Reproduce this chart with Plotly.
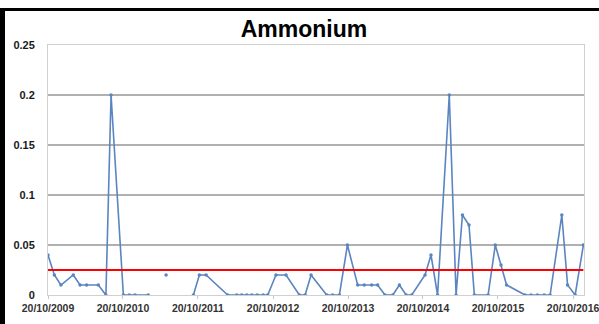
import plotly.graph_objects as go

# ---- data ----
dates = [
    "2009-10-20", "2009-11-20", "2009-12-22", "2010-02-20", "2010-03-25", "2010-04-26",
    "2010-06-22", "2010-07-29", "2010-08-23", "2010-10-22", "2010-11-20", "2010-12-18",
    "2011-02-20", "2011-03-20", "2011-05-18", "2011-07-20", "2011-09-28", "2011-10-27",
    "2011-11-29", "2012-03-13", "2012-04-26", "2012-05-20", "2012-06-14", "2012-07-08",
    "2012-08-04", "2012-09-02", "2012-09-24", "2012-11-03", "2012-12-22", "2013-02-25",
    "2013-03-25", "2013-04-23", "2013-07-08", "2013-08-06", "2013-09-08", "2013-10-17",
    "2013-12-06", "2014-01-07", "2014-02-12", "2014-03-13", "2014-04-18", "2014-05-26",
    "2014-06-27", "2014-07-30", "2014-08-26", "2014-10-30", "2014-11-28", "2014-12-30",
    "2015-02-25", "2015-03-30", "2015-04-30", "2015-06-01", "2015-06-27", "2015-09-02",
    "2015-10-07", "2015-11-04", "2015-12-01", "2016-02-29", "2016-03-29", "2016-04-29",
    "2016-06-01", "2016-06-30", "2016-08-26", "2016-09-23", "2016-10-30", "2016-12-09",
]
ammonium = [
    0.04, 0.02, 0.01, 0.02, 0.01, 0.01,
    0.01, 0.0, 0.2, 0.0, 0.0, 0.0,
    0.0, None, 0.02, None, 0.0, 0.02,
    0.02, 0.0, 0.0, 0.0, 0.0, 0.0,
    0.0, 0.0, 0.0, 0.02, 0.02, 0.0,
    0.0, 0.02, 0.0, 0.0, 0.0, 0.05,
    0.01, 0.01, 0.01, 0.01, 0.0, 0.0,
    0.01, 0.0, 0.0, 0.02, 0.04, 0.0,
    0.2, 0.0, 0.08, 0.07, 0.0, 0.0,
    0.05, 0.03, 0.01, 0.0, 0.0, 0.0,
    0.0, 0.0, 0.08, 0.01, 0.0, 0.05,
]
limit_value = 0.025
limit_dates = [dates[0], dates[-1]]

x_tick_vals = ["2009-10-20", "2010-10-20", "2011-10-20", "2012-10-20",
               "2013-10-20", "2014-10-20", "2015-10-20", "2016-10-20"]
x_tick_text = ["20/10/2009", "20/10/2010", "20/10/2011", "20/10/2012",
               "20/10/2013", "20/10/2014", "20/10/2015", "20/10/2016"]
y_tick_vals = [0, 0.05, 0.1, 0.15, 0.2, 0.25]
y_tick_text = ["0", "0.05", "0.1", "0.15", "0.2", "0.25"]

FONT = "Liberation Sans"

fig = go.Figure()
fig.add_trace(go.Scatter(
    x=dates, y=ammonium, mode="lines+markers", connectgaps=False,
    line=dict(color="#5a85c0", width=1.6),
    marker=dict(size=3.5, color="#5a85c0"),
    showlegend=False, hoverinfo="skip",
))
fig.add_trace(go.Scatter(
    x=limit_dates, y=[limit_value, limit_value], mode="lines",
    line=dict(color="#ff0000", width=2),
    showlegend=False, hoverinfo="skip",
))

# plot area: left 48, right 584, top 45, bottom 295 (px)
L, R, T, B = 48, 584, 45, 295
W, H = 599, 324
pw, ph = R - L, B - T

def px_x(p):
    return (p - L) / pw

def px_y(p):
    return (B - p) / ph

shapes = [
    dict(type="rect", xref="paper", yref="paper", x0=px_x(0), x1=px_x(5),
         y0=px_y(H), y1=px_y(8), fillcolor="black", line=dict(width=0), layer="above"),
    dict(type="rect", xref="paper", yref="paper", x0=px_x(0), x1=px_x(W),
         y0=px_y(11), y1=px_y(8), fillcolor="black", line=dict(width=0), layer="above"),
]

fig.update_layout(
    width=W, height=H,
    margin=dict(l=L, r=W - R, t=T, b=H - B, pad=0, autoexpand=False),
    paper_bgcolor="white", plot_bgcolor="white",
    font=dict(family=FONT, color="#1a1a1a"),
    title=dict(text="<b>Ammonium</b>", x=px_x(304), xref="paper", xanchor="center",
               y=1 - 29 / H, yref="container", yanchor="middle",
               font=dict(family=FONT, size=23, color="black"), automargin=False),
    shapes=shapes,
    xaxis=dict(
        type="date", range=["2009-10-20", "2016-12-12"],
        tickvals=x_tick_vals, ticktext=x_tick_text,
        tickfont=dict(family=FONT, size=10.5, color="#333333", weight="bold"),
        showgrid=False, showline=True, linecolor="#d0d0d0", linewidth=1,
        mirror=True, ticks="outside", ticklen=3, tickcolor="#c8c8c8",
        zeroline=False, automargin=False, ticklabeloverflow="allow",
    ),
    yaxis=dict(
        range=[0, 0.25], tickvals=y_tick_vals, ticktext=y_tick_text,
        tickfont=dict(family=FONT, size=11, color="#1a1a1a", weight="bold"),
        showgrid=True, gridcolor="#b0b0b0", gridwidth=1.6,
        showline=True, linecolor="#d0d0d0", linewidth=1, mirror=True,
        ticks="", zeroline=False, ticklabelstandoff=10, automargin=False,
    ),
)

fig.write_html(
    "out.html",
    config={"displayModeBar": False, "staticPlot": True},
    post_script="document.body.style.margin='0';document.body.style.overflow='hidden';",
)
